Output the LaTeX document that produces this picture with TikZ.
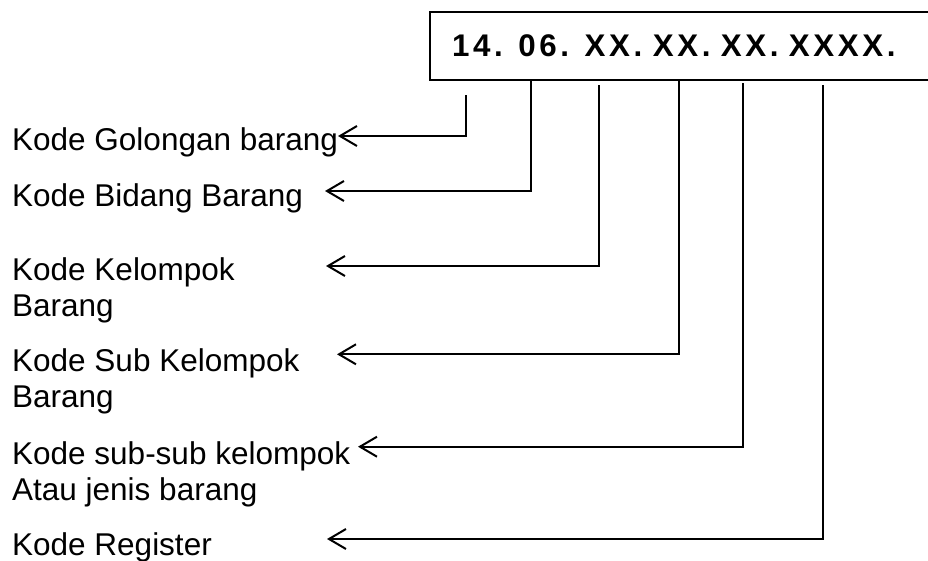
\documentclass[tikz,border=0pt]{standalone}
\usepackage{fontspec}
\setmainfont{Liberation Sans}
\newfontfamily\codefont[LetterSpace=11.5]{Liberation Sans}
\usetikzlibrary{arrows.meta}
\begin{document}
\begin{tikzpicture}[x=1pt,y=-1pt,
  lbl/.style={anchor=base west, align=left, inner sep=0pt,
    font=\fontsize{31.5}{36}\selectfont},
  lead/.style={line width=2pt,
    -{Straight Barb[length=17pt,width=20pt,line width=2pt]}},
  codebox/.style={draw, line width=2pt, anchor=north west,
    minimum height=68pt, text width=480pt, inner xsep=22pt,
    font=\codefont\bfseries\fontsize{31.3}{36}\selectfont}]
\useasboundingbox (0,0) rectangle (928,560);

% the code box, running off the right edge
\node[codebox] (code) at (429,11) {\raisebox{1pt}{14. 06. XX. XX. XX. XXXX.}};

% labels (multi-line labels are placed by their last baseline)
\node[lbl] (golongan) at (12,150.6) {Kode Golongan barang};
\node[lbl] (bidang)   at (12,206.6) {Kode Bidang Barang};
\node[lbl] (kelompok) at (12,316.6) {Kode Kelompok\\Barang};
\node[lbl] (subkel)   at (12,407.6) {Kode Sub Kelompok\\Barang};
\node[lbl] (subsub)   at (12,500)   {Kode sub-sub kelompok\\Atau jenis barang};
\node[lbl] (register) at (12,555.6) {Kode Register};

% start points under the box
\coordinate (s1) at (465.7,95);
\coordinate (s2) at (530.7,79);
\coordinate (s3) at (598.5,85);
\coordinate (s4) at (678.8,79);
\coordinate (s5) at (742.7,83);
\coordinate (s6) at (822.7,85);

% arrow tips beside the labels
\coordinate (t1) at (338,136);
\coordinate (t2) at (325,191);
\coordinate (t3) at (326,266);
\coordinate (t4) at (337,354.3);
\coordinate (t5) at (358,446.7);
\coordinate (t6) at (327,539);

\draw[lead] (s1) |- (t1);
\draw[lead] (s2) |- (t2);
\draw[lead] (s3) |- (t3);
\draw[lead] (s4) |- (t4);
\draw[lead] (s5) |- (t5);
\draw[lead] (s6) |- (t6);
\end{tikzpicture}
\end{document}
